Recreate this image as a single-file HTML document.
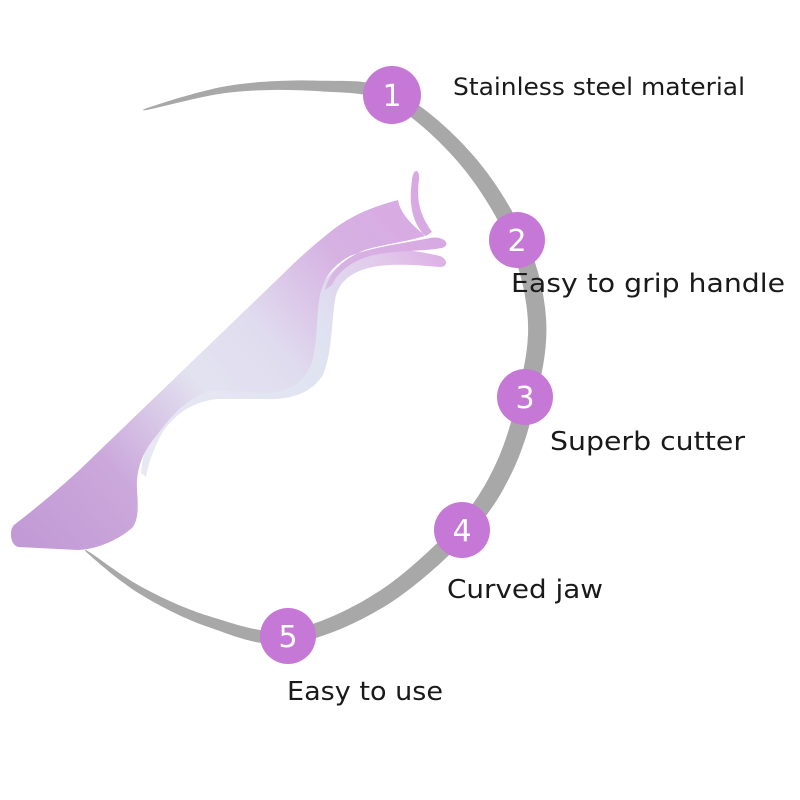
<!DOCTYPE html>
<html><head><meta charset="utf-8"><style>
html,body{margin:0;padding:0;background:#fff;width:800px;height:800px;overflow:hidden}
svg{display:block}
text{font-family:"DejaVu Sans","Liberation Sans",sans-serif;fill:#1a1a1a}
.n{fill:#fff;font-size:30px;text-anchor:middle}
</style></head><body>
<svg width="800" height="800" viewBox="0 0 800 800" xmlns="http://www.w3.org/2000/svg">
<defs>
<linearGradient id="tw" x1="20" y1="540" x2="420" y2="190" gradientUnits="userSpaceOnUse">
<stop offset="0" stop-color="#c29ad5"/>
<stop offset="0.22" stop-color="#cba8dc"/>
<stop offset="0.45" stop-color="#e3e3f0"/>
<stop offset="0.6" stop-color="#e0dcef"/>
<stop offset="0.8" stop-color="#d6b2e2"/>
<stop offset="1" stop-color="#d9a8e4"/>
</linearGradient>
<linearGradient id="tw2" x1="140" y1="470" x2="450" y2="260" gradientUnits="userSpaceOnUse">
<stop offset="0" stop-color="#e8e8f2"/>
<stop offset="0.6" stop-color="#dfe3f1"/>
<stop offset="0.85" stop-color="#e2c8ea"/>
<stop offset="1" stop-color="#dcaee6"/>
</linearGradient>
</defs>
<path id="arc" fill="#a8a8a8" d=""/>
<!-- back piece -->
<path fill="url(#tw2)" transform="translate(-2,-5)" d="M143,478 C145,455 152,440 165,428 C180,412 195,395 220,390 L270,392 C295,390 305,380 312,365 C318,345 318,320 322,295 C330,275 350,262 375,256 C395,252 420,256 442,261 C450,264 450,272 442,272 C420,270 395,268 375,272 C355,276 343,285 338,300 C333,325 335,355 325,380 C312,400 290,405 265,404 L220,404 C195,406 175,420 163,440 C155,455 150,470 148,482 Z"/>
<!-- main body -->
<path fill="url(#tw)" d="M14,525 C9,530 10,545 18,547 L78,550 C98,549 118,540 132,528 C139,520 138,505 137,490 C136,470 142,452 157,435 C170,418 185,398 213,390 L265,393 C290,392 305,382 312,362 C318,340 316,315 320,295 C324,278 332,266 350,256 C372,247 400,244 430,238 C444,235 452,245 442,248 C418,252 392,250 370,256 C350,262 338,272 332,285 L325,290 C330,270 345,258 365,250 C385,244 405,242 425,236 C414,224 408,208 412,180 C413,168 420,168 419,180 C416,200 420,215 432,232 L426,236 C410,224 400,212 398,200 C380,205 355,212 330,232 C310,248 295,262 285,272 L95,455 C70,480 40,505 14,525 Z"/>
<!-- circles -->
<g fill="#c678d6">
<circle cx="392" cy="95" r="29"/>
<circle cx="517" cy="240" r="28"/>
<circle cx="525" cy="397" r="28"/>
<circle cx="462" cy="530" r="28"/>
<circle cx="288" cy="636" r="28"/>
</g>
<text class="n" x="392" y="106">1</text>
<text class="n" x="517" y="251">2</text>
<text class="n" x="525" y="408">3</text>
<text class="n" x="462" y="541">4</text>
<text class="n" x="288" y="647">5</text>
<text x="453" y="95" font-size="24" textLength="292" lengthAdjust="spacingAndGlyphs">Stainless steel material</text>
<text x="511" y="292" font-size="26" textLength="274" lengthAdjust="spacingAndGlyphs">Easy to grip handle</text>
<text x="550" y="450" font-size="26" textLength="195" lengthAdjust="spacingAndGlyphs">Superb cutter</text>
<text x="447" y="598" font-size="26" textLength="156" lengthAdjust="spacingAndGlyphs">Curved jaw</text>
<text x="287" y="700" font-size="26" textLength="156" lengthAdjust="spacingAndGlyphs">Easy to use</text>
</svg>
<script>
(function(){
var P=[[143,110],[230,89],[320,86],[392,97],[465,158],[517,240],[537,320],[527,397],[503,470],[462,530],[380,600],[288,637],[210,622],[140,590],[85,550]];
function cr(p0,p1,p2,p3,t){var t2=t*t,t3=t2*t;return [0,1].map(function(i){return 0.5*((2*p1[i])+(-p0[i]+p2[i])*t+(2*p0[i]-5*p1[i]+4*p2[i]-p3[i])*t2+(-p0[i]+3*p1[i]-3*p2[i]+p3[i])*t3);});}
var pts=[];
for(var i=0;i<P.length-1;i++){var p0=P[Math.max(0,i-1)],p1=P[i],p2=P[i+1],p3=P[Math.min(P.length-1,i+2)];
for(var k=0;k<20;k++)pts.push(cr(p0,p1,p2,p3,k/20));}
pts.push(P[P.length-1]);
var n=pts.length,L=[],R=[];
for(var j=0;j<n;j++){var a=pts[Math.max(0,j-2)],b=pts[Math.min(n-1,j+2)];var dx=b[0]-a[0],dy=b[1]-a[1],l=Math.hypot(dx,dy)||1;var nx=-dy/l,ny=dx/l;var t=j/(n-1);var w=18*Math.pow(Math.sin(Math.PI*t),0.7)/2+0.3;
L.push([pts[j][0]+nx*w,pts[j][1]+ny*w]);R.push([pts[j][0]-nx*w,pts[j][1]-ny*w]);}
var d="M"+L.map(function(p){return p[0].toFixed(1)+","+p[1].toFixed(1)}).join(" L")+" L"+R.reverse().map(function(p){return p[0].toFixed(1)+","+p[1].toFixed(1)}).join(" L")+" Z";
document.getElementById("arc").setAttribute("d",d);
})();
</script>
</body></html>
